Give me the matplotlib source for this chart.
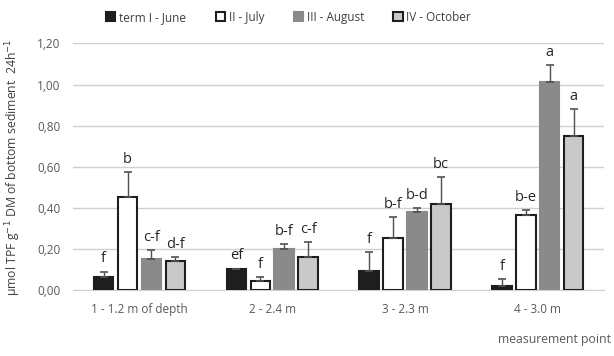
import matplotlib.pyplot as plt
import numpy as np

plt.rcParams['font.family'] = ['Open Sans', 'DejaVu Sans']

points = ['1 - 1.2 m of depth', '2 - 2.4 m', '3 - 2.3 m', '4 - 3.0 m']
terms = ['term I - June', 'II - July', 'III - August', 'IV - October']

june = [0.065, 0.105, 0.095, 0.02]
july = [0.455, 0.045, 0.255, 0.365]
august = [0.15, 0.20, 0.38, 1.01]
october = [0.14, 0.16, 0.418, 0.75]

june_err = [0.025, 0.0, 0.092, 0.034]
july_err = [0.12, 0.02, 0.10, 0.025]
august_err = [0.045, 0.025, 0.018, 0.083]
october_err = [0.02, 0.075, 0.133, 0.13]

june_lbl = ['f', 'ef', 'f', 'f']
july_lbl = ['b', 'f', 'b-f', 'b-e']
august_lbl = ['c-f', 'b-f', 'b-d', 'a']
october_lbl = ['d-f', 'c-f', 'bc', 'a']

values = [june, july, august, october]
errors = [june_err, july_err, august_err, october_err]
letters = [june_lbl, july_lbl, august_lbl, october_lbl]
faces = ['#1e1e1e', 'white', '#8a8a8a', '#c9c9c9']
edges = ['#1e1e1e', '#1e1e1e', '#8a8a8a', '#1e1e1e']

fig = plt.figure(figsize=(6.14, 3.56), dpi=100)
ax = fig.add_axes([0.119, 0.185, 0.865, 0.693])

x = np.arange(len(points))
w = 0.147
pitch = 0.18
for i in range(4):
    pos = x + (i - 1.5) * pitch
    ax.bar(pos, values[i], w, color=faces[i], edgecolor=edges[i], linewidth=1.5,
           label=terms[i], zorder=3)
    ax.errorbar(pos, values[i], yerr=[np.zeros(4), errors[i]], fmt='none',
                ecolor='#505050', elinewidth=1, capsize=3, capthick=1.2, zorder=4)
    for p, v, e, t in zip(pos, values[i], errors[i], letters[i]):
        ax.text(p, v + e + 0.025, t, ha='center', va='bottom', fontsize=10.5,
                color='#262626')

ax.set_xlim(-0.5, 3.5)
ax.set_ylim(0, 1.2)
ax.set_yticks(np.arange(0, 1.21, 0.2))
ax.set_yticklabels([('%.2f' % t).replace('.', ',') for t in np.arange(0, 1.21, 0.2)])
ax.set_xticks(x)
ax.set_xticklabels(points)
ax.tick_params(length=0, labelsize=8.5, colors='#595959', pad=9)
ax.grid(axis='y', color='#d0d0d0', linewidth=1, zorder=0)
for s in ['top', 'right', 'left']:
    ax.spines[s].set_visible(False)
ax.spines['bottom'].set_color('#d0d0d0')

ax.set_ylabel('μmol TPF g$^{-1}$ DM of bottom sediment  24h$^{-1}$', fontsize=8.8,
              color='#404040', labelpad=10)
fig.text(0.995, 0.045, 'measurement point', ha='right', va='center', fontsize=8.8,
         color='#595959')

fig.legend(loc='upper center', bbox_to_anchor=(0.47, 1.0), ncol=4, frameon=False,
           fontsize=8.5, labelcolor='#404040', handlelength=0.8, handleheight=0.8,
           handletextpad=0.3, columnspacing=2.5)

fig.savefig('out.png', dpi=100)
